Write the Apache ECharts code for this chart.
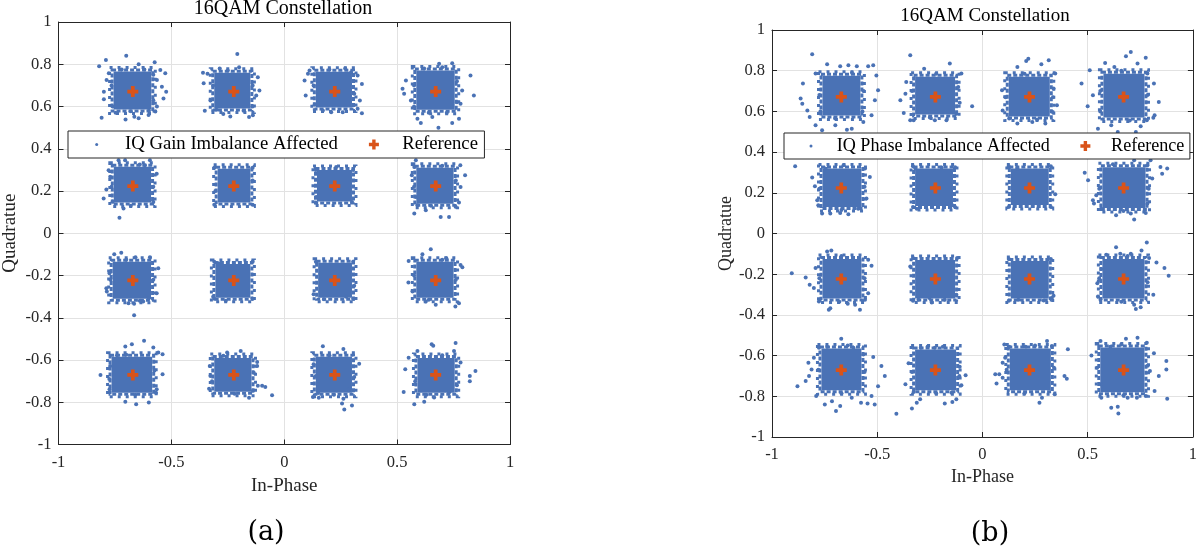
<!DOCTYPE html>
<html>
<head>
<meta charset="utf-8">
<script src="https://cdn.jsdelivr.net/npm/echarts@6/dist/echarts.min.js"></script>
<style>
html,body{margin:0;padding:0;background:#fff;}
#chart{width:1200px;height:546px;}
</style>
</head>
<body>
<div id="chart"></div>
<script>
// ---------------- data ----------------
const refLevels = [-0.6708, -0.2236, 0.2236, 0.6708];
const xTickLabels = ['-1', '-0.5', '0', '0.5', '1'];
const yTickLabels = ['-1', '-0.8', '-0.6', '-0.4', '-0.2', '0', '0.2', '0.4', '0.6', '0.8', '1'];

// dense core of each cluster: [xMin, xMax, yMin, yMax]
const gainCores = [
  [-0.756, -0.589, 0.586, 0.766], [-0.31, -0.15, 0.59, 0.76], [0.14, 0.30, 0.595, 0.765], [0.585, 0.755, 0.585, 0.77],
  [-0.755, -0.59, 0.145, 0.315], [-0.295, -0.15, 0.145, 0.305], [0.145, 0.30, 0.15, 0.30], [0.585, 0.75, 0.14, 0.31],
  [-0.76, -0.59, -0.31, -0.135], [-0.305, -0.15, -0.305, -0.145], [0.15, 0.30, -0.305, -0.14], [0.585, 0.75, -0.305, -0.135],
  [-0.765, -0.585, -0.755, -0.585], [-0.31, -0.145, -0.75, -0.59], [0.14, 0.30, -0.755, -0.585], [0.59, 0.755, -0.755, -0.59]
];
const phaseCores = [
  [-0.76, -0.58, 0.58, 0.775], [-0.32, -0.13, 0.585, 0.77], [0.125, 0.32, 0.575, 0.77], [0.575, 0.77, 0.57, 0.785],
  [-0.76, -0.575, 0.13, 0.32], [-0.32, -0.14, 0.135, 0.32], [0.135, 0.315, 0.14, 0.32], [0.57, 0.775, 0.125, 0.325],
  [-0.76, -0.575, -0.32, -0.125], [-0.32, -0.13, -0.32, -0.13], [0.135, 0.315, -0.32, -0.135], [0.57, 0.77, -0.32, -0.125],
  [-0.765, -0.575, -0.77, -0.565], [-0.32, -0.125, -0.77, -0.57], [0.13, 0.325, -0.77, -0.565], [0.56, 0.77, -0.78, -0.56]
];

// scattered samples around the cores
const gainPoints = [
  [-0.82,0.79],[-0.79,0.82],[-0.70,0.84],[-0.645,0.80],[-0.574,0.81],[-0.527,0.757],[-0.542,0.694],[-0.523,0.67],[-0.535,0.638],[-0.564,0.60],[-0.571,0.576],[-0.601,0.56],[-0.645,0.544],[-0.664,0.552],[-0.703,0.539],[-0.747,0.571],[-0.809,0.547],[-0.799,0.67],[-0.799,0.634],[-0.787,0.726],[-0.777,0.757],[-0.564,0.726],[-0.549,0.773],[-0.765,0.70],[-0.76,0.60],[-0.58,0.63],[-0.58,0.75],[-0.62,0.775],[-0.72,0.775],[-0.68,0.578],[-0.60,0.58],
  [-0.36,0.76],[-0.34,0.755],[-0.357,0.71],[-0.352,0.58],[-0.208,0.849],[-0.286,0.78],[-0.20,0.786],[-0.117,0.739],[-0.11,0.676],[-0.124,0.652],[-0.139,0.558],[-0.156,0.55],[-0.239,0.553],[-0.27,0.565],[-0.327,0.628],[-0.315,0.70],[-0.14,0.70],[-0.14,0.60],[-0.25,0.77],[-0.30,0.585],[-0.18,0.58],
  [0.09,0.723],[0.095,0.652],[0.105,0.755],[0.112,0.77],[0.325,0.747],[0.344,0.707],[0.335,0.628],[0.344,0.568],[0.325,0.589],[0.259,0.573],[0.208,0.573],[0.171,0.581],[0.296,0.762],[0.13,0.70],[0.31,0.66],[0.20,0.775],[0.27,0.78],[0.135,0.61],
  [0.524,0.684],[0.531,0.66],[0.539,0.723],[0.561,0.628],[0.59,0.542],[0.605,0.522],[0.683,0.499],[0.656,0.55],[0.744,0.522],[0.774,0.542],[0.825,0.747],[0.84,0.652],[0.686,0.802],[0.744,0.805],[0.70,0.786],[0.781,0.613],[0.788,0.676],[0.575,0.70],[0.575,0.60],[0.765,0.72],[0.765,0.62],[0.62,0.78],[0.64,0.57],[0.72,0.57],
  [-0.80,0.164],[-0.788,0.207],[-0.771,0.267],[-0.778,0.298],[-0.73,0.073],[-0.712,0.117],[-0.565,0.282],[-0.58,0.148],[-0.595,0.345],[-0.617,0.322],[-0.734,0.345],[-0.705,0.345],[-0.765,0.22],[-0.58,0.22],[-0.68,0.13],[-0.64,0.325],[-0.76,0.15],
  [-0.31,0.31],[-0.14,0.31],[-0.31,0.135],[-0.14,0.135],[-0.305,0.20],[-0.14,0.25],
  [0.23,0.314],[0.142,0.172],[0.30,0.148],[0.14,0.30],[0.305,0.30],[0.14,0.145],
  [0.576,0.093],[0.59,0.133],[0.583,0.172],[0.565,0.274],[0.576,0.314],[0.583,0.345],[0.693,0.077],[0.73,0.077],[0.759,0.125],[0.781,0.219],[0.801,0.274],[0.78,0.322],[0.627,0.109],[0.774,0.145],[0.575,0.22],[0.76,0.25],[0.65,0.13],[0.70,0.32],
  [-0.753,-0.099],[-0.722,-0.092],[-0.659,-0.114],[-0.595,-0.114],[-0.558,-0.166],[-0.565,-0.284],[-0.60,-0.308],[-0.625,-0.323],[-0.665,-0.334],[-0.69,-0.331],[-0.665,-0.388],[-0.786,-0.276],[-0.788,-0.26],[-0.774,-0.189],[-0.77,-0.22],[-0.58,-0.22],[-0.70,-0.125],[-0.64,-0.32],
  [-0.315,-0.30],[-0.259,-0.319],[-0.292,-0.142],[-0.31,-0.135],[-0.14,-0.135],[-0.14,-0.31],[-0.31,-0.31],
  [0.13,-0.289],[0.176,-0.312],[0.31,-0.248],[0.274,-0.30],[0.14,-0.135],[0.305,-0.135],[0.305,-0.31],
  [0.551,-0.131],[0.612,-0.099],[0.649,-0.076],[0.718,-0.118],[0.781,-0.15],[0.789,-0.161],[0.55,-0.233],[0.568,-0.276],[0.627,-0.323],[0.671,-0.339],[0.758,-0.347],[0.774,-0.331],[0.575,-0.20],[0.76,-0.22],[0.70,-0.125],[0.64,-0.315],
  [-0.814,-0.671],[-0.771,-0.628],[-0.741,-0.578],[-0.704,-0.536],[-0.675,-0.525],[-0.621,-0.509],[-0.58,-0.541],[-0.558,-0.565],[-0.539,-0.573],[-0.539,-0.668],[-0.565,-0.739],[-0.60,-0.801],[-0.656,-0.809],[-0.704,-0.798],[-0.774,-0.739],[-0.568,-0.755],[-0.775,-0.69],[-0.575,-0.65],[-0.66,-0.765],[-0.70,-0.575],
  [-0.33,-0.628],[-0.327,-0.676],[-0.333,-0.736],[-0.253,-0.565],[-0.193,-0.557],[-0.12,-0.609],[-0.12,-0.628],[-0.098,-0.722],[-0.117,-0.722],[-0.084,-0.728],[-0.054,-0.767],[-0.156,-0.779],[-0.139,-0.745],[-0.32,-0.70],[-0.135,-0.66],[-0.22,-0.76],[-0.27,-0.58],
  [0.127,-0.775],[0.153,-0.779],[0.148,-0.714],[0.14,-0.676],[0.171,-0.535],[0.262,-0.548],[0.332,-0.618],[0.289,-0.739],[0.262,-0.783],[0.256,-0.806],[0.266,-0.834],[0.30,-0.815],[0.15,-0.756],[0.13,-0.62],[0.31,-0.68],[0.20,-0.578],[0.22,-0.765],
  [0.529,-0.752],[0.536,-0.644],[0.551,-0.589],[0.59,-0.557],[0.653,-0.525],[0.66,-0.533],[0.759,-0.52],[0.752,-0.557],[0.781,-0.612],[0.822,-0.676],[0.822,-0.70],[0.847,-0.652],[0.576,-0.809],[0.62,-0.798],[0.664,-0.777],[0.73,-0.753],[0.58,-0.70],[0.765,-0.72],[0.70,-0.578],[0.63,-0.765]
];

const phasePoints = [
  [-0.809,0.881],[-0.853,0.737],[-0.864,0.663],[-0.856,0.638],[-0.832,0.605],[-0.821,0.573],[-0.793,0.532],[-0.762,0.507],[-0.699,0.532],[-0.644,0.51],[-0.621,0.515],[-0.566,0.548],[-0.527,0.581],[-0.511,0.655],[-0.496,0.704],[-0.504,0.777],[-0.519,0.827],[-0.543,0.822],[-0.597,0.822],[-0.637,0.827],[-0.676,0.822],[-0.738,0.832],[-0.793,0.786],[-0.775,0.68],[-0.565,0.70],[-0.70,0.565],[-0.62,0.79],[-0.77,0.60],[-0.57,0.60],
  [-0.343,0.876],[-0.362,0.745],[-0.366,0.687],[-0.374,0.592],[-0.39,0.655],[-0.343,0.556],[-0.327,0.556],[-0.277,0.81],[-0.226,0.556],[-0.171,0.556],[-0.155,0.835],[-0.1,0.786],[-0.108,0.642],[-0.049,0.625],[-0.124,0.589],[-0.335,0.70],[-0.115,0.72],[-0.22,0.785],[-0.25,0.57],
  [0.218,0.859],[0.208,0.848],[0.166,0.818],[0.28,0.832],[0.315,0.851],[0.346,0.786],[0.338,0.712],[0.354,0.63],[0.334,0.597],[0.299,0.54],[0.237,0.548],[0.166,0.54],[0.127,0.565],[0.096,0.605],[0.093,0.704],[0.11,0.67],[0.335,0.67],[0.20,0.785],[0.26,0.56],
  [0.705,0.892],[0.682,0.871],[0.737,0.835],[0.776,0.864],[0.583,0.838],[0.627,0.818],[0.51,0.802],[0.471,0.737],[0.5,0.625],[0.525,0.679],[0.549,0.515],[0.612,0.532],[0.643,0.499],[0.729,0.499],[0.752,0.527],[0.812,0.569],[0.838,0.646],[0.815,0.737],[0.784,0.786],[0.818,0.581],[0.781,0.556],[0.56,0.70],[0.785,0.68],[0.66,0.80],[0.70,0.555],[0.56,0.60],
  [-0.89,0.33],[-0.809,0.275],[-0.796,0.232],[-0.785,0.163],[-0.78,0.139],[-0.762,0.098],[-0.723,0.098],[-0.676,0.101],[-0.637,0.094],[-0.59,0.122],[-0.551,0.172],[-0.535,0.278],[-0.558,0.319],[-0.746,0.319],[-0.775,0.22],[-0.56,0.23],[-0.67,0.115],[-0.66,0.335],
  [-0.312,0.122],[-0.319,0.319],[-0.194,0.324],[-0.143,0.139],[-0.13,0.325],[-0.33,0.13],[-0.13,0.13],[-0.33,0.33],
  [0.346,0.193],[0.166,0.319],[0.125,0.33],[0.325,0.33],[0.125,0.13],[0.325,0.13],
  [0.486,0.298],[0.525,0.163],[0.541,0.188],[0.53,0.147],[0.565,0.122],[0.635,0.09],[0.705,0.098],[0.721,0.069],[0.776,0.101],[0.784,0.147],[0.807,0.27],[0.846,0.327],[0.878,0.319],[0.854,0.294],[0.799,0.36],[0.721,0.36],[0.784,0.335],[0.502,0.262],[0.555,0.22],[0.79,0.22],[0.67,0.11],[0.62,0.34],
  [-0.906,-0.195],[-0.84,-0.216],[-0.821,-0.252],[-0.801,-0.268],[-0.793,-0.17],[-0.738,-0.088],[-0.718,-0.083],[-0.543,-0.129],[-0.527,-0.158],[-0.543,-0.293],[-0.558,-0.326],[-0.582,-0.375],[-0.605,-0.35],[-0.64,-0.345],[-0.723,-0.367],[-0.73,-0.375],[-0.777,-0.334],[-0.775,-0.22],[-0.56,-0.22],[-0.67,-0.11],[-0.68,-0.335],
  [-0.343,-0.162],[-0.304,-0.326],[-0.241,-0.339],[-0.252,-0.317],[-0.179,-0.326],[-0.124,-0.301],[-0.33,-0.12],[-0.12,-0.12],[-0.33,-0.33],
  [0.291,-0.329],[0.33,-0.317],[0.338,-0.306],[0.171,-0.326],[0.125,-0.125],[0.325,-0.125],[0.125,-0.33],
  [0.635,-0.067],[0.655,-0.1],[0.705,-0.1],[0.756,-0.083],[0.781,-0.044],[0.588,-0.104],[0.565,-0.175],[0.546,-0.244],[0.549,-0.309],[0.561,-0.326],[0.721,-0.35],[0.729,-0.371],[0.752,-0.362],[0.812,-0.301],[0.827,-0.142],[0.865,-0.17],[0.885,-0.208],[0.792,-0.121],[0.555,-0.22],[0.785,-0.24],[0.66,-0.335],[0.69,-0.11],
  [-0.879,-0.75],[-0.84,-0.725],[-0.824,-0.70],[-0.812,-0.668],[-0.827,-0.635],[-0.801,-0.61],[-0.777,-0.561],[-0.738,-0.556],[-0.671,-0.517],[-0.613,-0.561],[-0.566,-0.594],[-0.519,-0.607],[-0.48,-0.651],[-0.464,-0.70],[-0.496,-0.75],[-0.527,-0.799],[-0.512,-0.84],[-0.546,-0.835],[-0.577,-0.832],[-0.621,-0.807],[-0.676,-0.848],[-0.696,-0.872],[-0.715,-0.824],[-0.749,-0.84],[-0.79,-0.799],[-0.78,-0.67],[-0.56,-0.68],[-0.67,-0.785],[-0.64,-0.55],
  [-0.351,-0.638],[-0.366,-0.741],[-0.327,-0.779],[-0.312,-0.832],[-0.296,-0.815],[-0.335,-0.86],[-0.409,-0.886],[-0.293,-0.561],[-0.226,-0.561],[-0.188,-0.556],[-0.108,-0.655],[-0.08,-0.697],[-0.1,-0.746],[-0.147,-0.782],[-0.143,-0.828],[-0.179,-0.835],[-0.124,-0.815],[-0.335,-0.68],[-0.11,-0.70],[-0.22,-0.785],[-0.26,-0.555],
  [0.061,-0.692],[0.08,-0.692],[0.067,-0.737],[0.096,-0.709],[0.096,-0.635],[0.108,-0.61],[0.104,-0.545],[0.127,-0.556],[0.205,-0.556],[0.307,-0.528],[0.33,-0.553],[0.406,-0.569],[0.39,-0.70],[0.401,-0.714],[0.343,-0.79],[0.283,-0.807],[0.271,-0.832],[0.115,-0.67],[0.34,-0.66],[0.20,-0.785],[0.25,-0.55],
  [0.518,-0.599],[0.561,-0.528],[0.608,-0.556],[0.682,-0.517],[0.737,-0.512],[0.781,-0.537],[0.815,-0.589],[0.874,-0.627],[0.874,-0.668],[0.838,-0.70],[0.796,-0.676],[0.818,-0.774],[0.878,-0.812],[0.776,-0.799],[0.734,-0.807],[0.69,-0.807],[0.643,-0.851],[0.646,-0.884],[0.612,-0.856],[0.565,-0.807],[0.561,-0.741],[0.545,-0.66],[0.785,-0.65],[0.67,-0.795],[0.66,-0.545]
];

const seriesNames = ['IQ Gain Imbalance Affected', 'IQ Phase Imbalance Affected'];
const refName = 'Reference';
const titles = ['16QAM Constellation', '16QAM Constellation'];
const captions = ['(a)', '(b)'];

// ---------------- styling ----------------
const BLUE = '#4a72b5';
const ORANGE = '#D95319';
const AXIS = '#262626';
const GRIDC = '#e2e2e2';
const SERIF = '"Liberation Serif", "Times New Roman", serif';
const PLUS = 'path://M3.3,0h3.4v3.3h3.3v3.4h-3.3v3.3h-3.4v-3.3h-3.3v-3.4h3.3z';
const DOT_ICON = 'path://M0,0M10,10M3.5,5a1.5,1.5 0 1,0 3,0a1.5,1.5 0 1,0 -3,0z';

const refPoints = [];
refLevels.forEach(y => refLevels.forEach(x => refPoints.push([x, y])));

const grids = [
  {left: 56, top: 22, width: 454, height: 422.5},
  {left: 772, top: 30, width: 426, height: 407}
];
const fs = [
  {tick: 16.5, name: 19, legend: 18.7, title: 20, xGap: 32.4, yGap: 38.5, xMargin: 9.7, titleTop: -1.5},
  {tick: 16.5, name: 18, legend: 18.1, title: 19, xGap: 31, yGap: 37, xMargin: 9.3, titleTop: 7}
];

const xAxes = [], yAxes = [];
grids.forEach((g, i) => {
  const base = {
    type: 'value', gridIndex: i, min: -1, max: 1,
    axisLine: {show: true, onZero: false, lineStyle: {color: AXIS, width: 1}},
    axisTick: {show: true, inside: true, length: 5, lineStyle: {color: AXIS}}
  };
  xAxes.push(Object.assign({}, base, {
    position: 'bottom', interval: 0.5,
    axisLabel: {fontFamily: SERIF, fontSize: fs[i].tick, color: AXIS, margin: fs[i].xMargin,
      formatter: v => xTickLabels[Math.round((v + 1) / 0.5)]},
    splitLine: {show: true, lineStyle: {color: GRIDC, width: 1}},
    name: 'In-Phase', nameLocation: 'middle', nameGap: fs[i].xGap,
    nameTextStyle: {fontFamily: SERIF, fontSize: fs[i].name, color: AXIS}
  }));
  xAxes.push(Object.assign({}, base, {
    position: 'top', interval: 0.5, axisLabel: {show: false}, splitLine: {show: false}
  }));
  yAxes.push(Object.assign({}, base, {
    position: 'left', interval: 0.2,
    axisLabel: {fontFamily: SERIF, fontSize: fs[i].tick, color: AXIS, margin: 7,
      formatter: v => yTickLabels[Math.round((v + 1) / 0.2)]},
    splitLine: {show: true, lineStyle: {color: GRIDC, width: 1}},
    name: 'Quadratue', nameLocation: 'middle', nameGap: fs[i].yGap,
    nameTextStyle: {fontFamily: SERIF, fontSize: fs[i].name, color: AXIS}
  }));
  yAxes.push(Object.assign({}, base, {
    position: 'right', interval: 0.2, axisLabel: {show: false}, splitLine: {show: false}
  }));
});

// solid core plus two dotted rims to give the dense cloud a ragged edge
function renderCore(params, api) {
  const p0 = api.coord([api.value(0), api.value(3)]);
  const p1 = api.coord([api.value(1), api.value(2)]);
  const x = p0[0], y = p0[1], w = p1[0] - p0[0], h = p1[1] - p0[1];
  return {
    type: 'group',
    children: [
      {type: 'rect', shape: {x: x - 4, y: y - 4, width: w + 8, height: h + 8},
        style: {fill: null, stroke: BLUE, lineWidth: 3, lineDash: [3, 5]}},
      {type: 'rect', shape: {x: x - 1.5, y: y - 1.5, width: w + 3, height: h + 3},
        style: {fill: null, stroke: BLUE, lineWidth: 3, lineDash: [4, 2]}},
      {type: 'rect', shape: {x: x, y: y, width: w, height: h},
        style: {fill: BLUE}}
    ]
  };
}

const coresList = [gainCores, phaseCores];
const pointsList = [gainPoints, phasePoints];
const series = [];
[0, 1].forEach(i => {
  series.push({
    type: 'custom', name: 'core' + i, xAxisIndex: i * 2, yAxisIndex: i * 2,
    renderItem: renderCore, data: coresList[i], encode: {x: [0, 1], y: [2, 3]},
    z: 2, silent: true, clip: true
  });
  series.push({
    type: 'scatter', name: seriesNames[i], xAxisIndex: i * 2, yAxisIndex: i * 2,
    data: pointsList[i], symbol: 'circle', symbolSize: 4,
    itemStyle: {color: BLUE, opacity: 1}, z: 3, silent: true
  });
  series.push({
    type: 'scatter', name: refName, xAxisIndex: i * 2, yAxisIndex: i * 2,
    data: refPoints, symbol: PLUS, symbolSize: 11,
    itemStyle: {color: ORANGE, opacity: 1}, z: 4, silent: true
  });
});

const legendCfg = [
  {left: 68, top: 131, itemWidth: 46.6, itemGap: 31, padding: [4, 6.5, 4, 23.7]},
  {left: 784, top: 133, itemWidth: 41.4, itemGap: 30.5, padding: [4, 5.5, 4, 22]}
];
const legends = legendCfg.map((c, i) => ({
  left: c.left, top: c.top, orient: 'horizontal',
  itemWidth: c.itemWidth, itemHeight: 10, itemGap: c.itemGap, padding: c.padding,
  backgroundColor: '#fff', borderColor: AXIS, borderWidth: 1, borderRadius: 0,
  selectedMode: false, z: 10,
  textStyle: {fontFamily: SERIF, fontSize: fs[i].legend, color: '#000'},
  data: [{name: seriesNames[i], icon: DOT_ICON}, {name: refName, icon: PLUS}]
}));

const chart = echarts.init(document.getElementById('chart'), null, {renderer: 'canvas'});
chart.setOption({
  animation: false,
  backgroundColor: '#fff',
  title: [
    {text: titles[0], left: 283, top: fs[0].titleTop, textAlign: 'center', padding: 0,
      textStyle: {fontFamily: SERIF, fontSize: fs[0].title, fontWeight: 'normal', color: '#000'}},
    {text: titles[1], left: 985, top: fs[1].titleTop, textAlign: 'center', padding: 0,
      textStyle: {fontFamily: SERIF, fontSize: fs[1].title, fontWeight: 'normal', color: '#000'}}
  ],
  grid: grids,
  xAxis: xAxes,
  yAxis: yAxes,
  legend: legends,
  series: series,
  graphic: [
    {type: 'text', x: 266, y: 533, style: {text: captions[0], font: '27px "DejaVu Serif"', fill: '#000', align: 'center', verticalAlign: 'middle'}},
    {type: 'text', x: 990, y: 534, style: {text: captions[1], font: '27px "DejaVu Serif"', fill: '#000', align: 'center', verticalAlign: 'middle'}}
  ]
});
</script>
</body>
</html>
